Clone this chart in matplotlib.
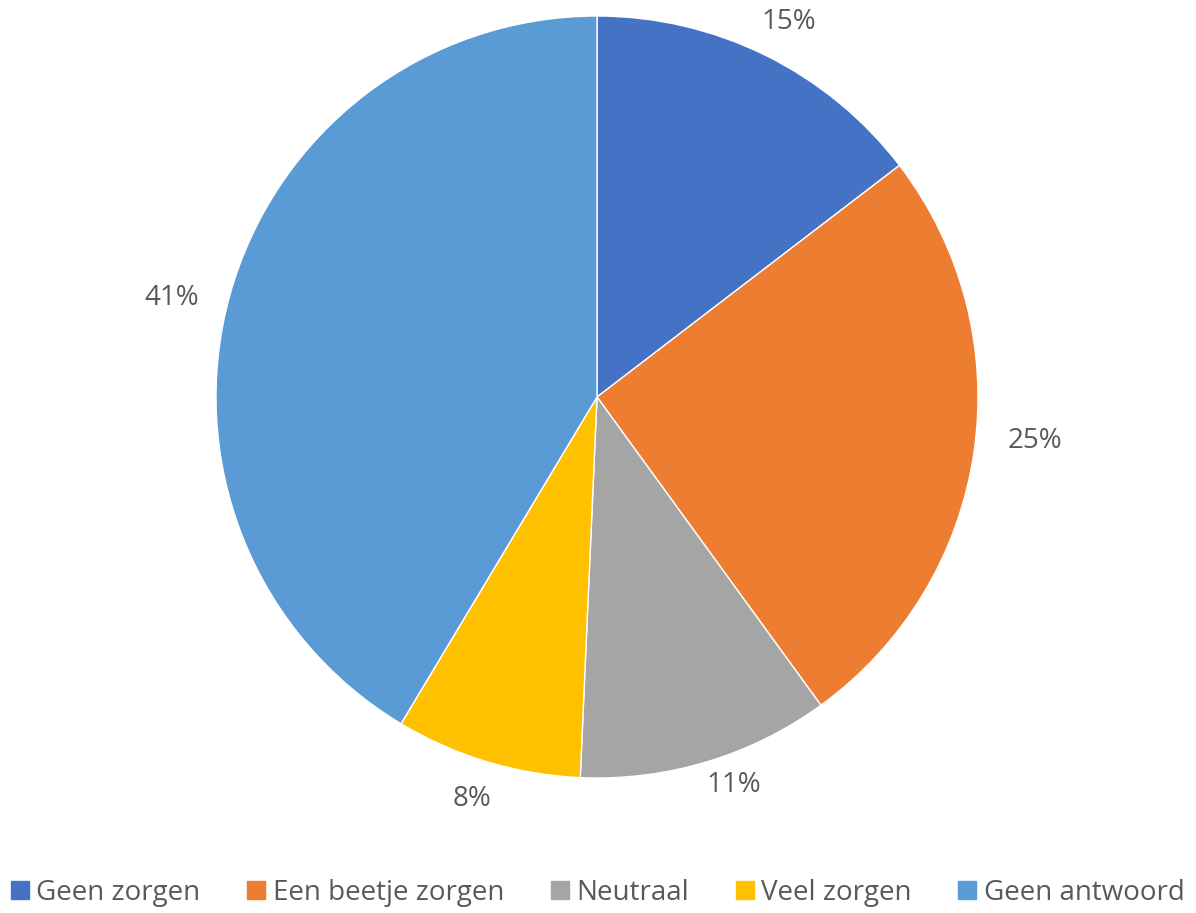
import matplotlib
matplotlib.use("Agg")
import matplotlib.pyplot as plt
import numpy as np
from matplotlib.lines import Line2D

categories = ["Geen zorgen", "Een beetje zorgen", "Neutraal", "Veel zorgen", "Geen antwoord"]
values = [14.6, 25.4, 10.7, 7.9, 41.4]
colors = ["#4472C4", "#ED7D31", "#A5A5A5", "#FFC000", "#5B9BD5"]
# label placement (radial distance, angular shift clockwise in degrees)
label_dist = [1.105, 1.155, 1.08, 1.105, 1.145]
label_shift = [0.8, -2.5, -2.6, 0.6, -2.4]

plt.rcParams['font.family'] = ['Open Sans', 'DejaVu Sans']
text_color = "#595959"

W, H = 1196, 913
fig = plt.figure(figsize=(W / 100, H / 100), dpi=100)
cx, cy, r = 597, 397, 381
ax = fig.add_axes([(cx - r) / W, (H - cy - r) / H, 2 * r / W, 2 * r / H])
wedges, texts, autotexts = ax.pie(
    values, colors=colors, startangle=90, counterclock=False,
    autopct='%.0f%%', pctdistance=1.12, radius=1,
    wedgeprops=dict(edgecolor='white', linewidth=1.0),
    textprops=dict(color=text_color, fontsize=20))
for w, t, d, s in zip(wedges, autotexts, label_dist, label_shift):
    ang = np.deg2rad((w.theta1 + w.theta2) / 2 - s)
    t.set_position((d * np.cos(ang), d * np.sin(ang)))
ax.set_xlim(-1, 1)
ax.set_ylim(-1, 1)
ax.set_aspect('equal')
ax.axis('off')

handles = [Line2D([0], [0], marker='s', linestyle='none', markersize=12.5,
                  markerfacecolor=c, markeredgecolor=c) for c in colors]
fig.legend(handles, categories, loc='center', bbox_to_anchor=(0.5, 1 - 893 / H),
           ncol=5, frameon=False, fontsize=20, labelcolor=text_color,
           handletextpad=0.3, columnspacing=1.7, handlelength=0.6)

fig.savefig("out.png", dpi=100)
